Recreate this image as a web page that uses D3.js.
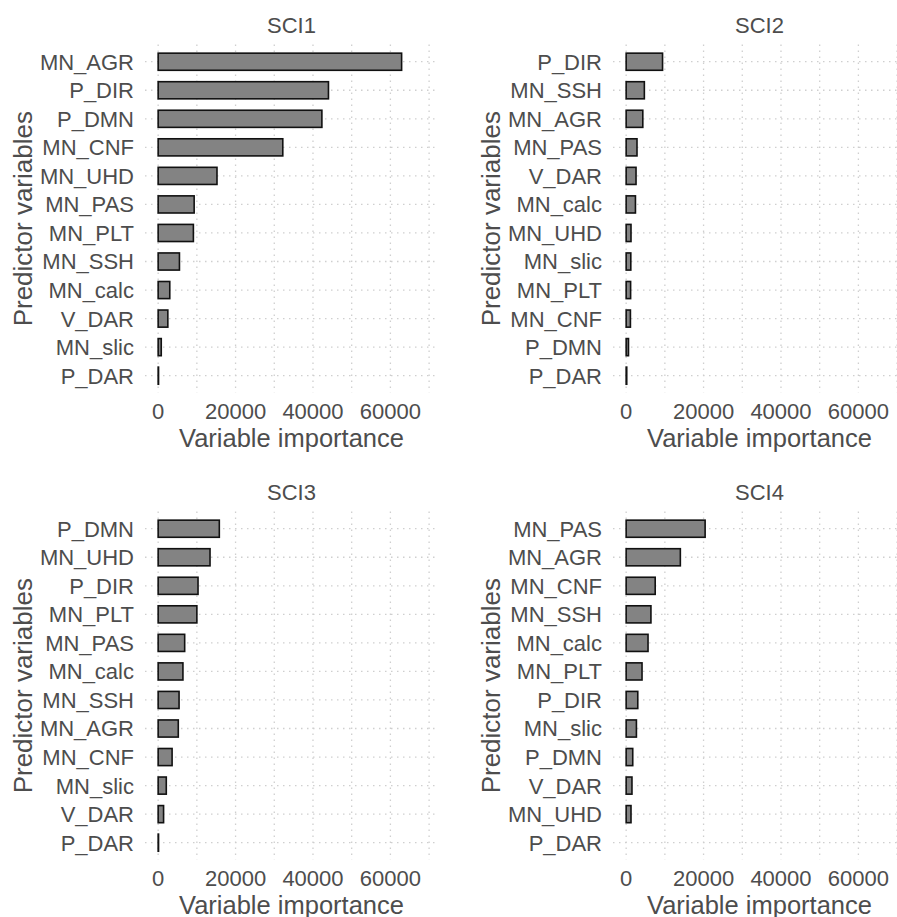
<!DOCTYPE html>
<html lang="en">
<head>
  <meta charset="UTF-8">
  <script src="https://cdn.jsdelivr.net/npm/d3@7"></script>
  <title>Variable importance</title>
  <style>
    html, body { margin: 0; padding: 0; background: #fff; }
    svg { display: block; }
  </style>
</head>
<body>
  <svg class="svg" width="897" height="917"></svg>
  <script>
    // variables, same order in every value list below
    const variables = ["MN_AGR", "P_DIR", "P_DMN", "MN_CNF", "MN_UHD", "MN_PAS",
                       "MN_PLT", "MN_SSH", "MN_calc", "V_DAR", "MN_slic", "P_DAR"]
    const sci1 = [62900, 44000, 42300, 32200, 15200, 9300, 9100, 5500, 3000, 2500, 800, 100]
    const sci2 = [4300, 9400, 600, 1100, 1250, 2800, 1150, 4700, 2400, 2550, 1200, 150]
    const sci3 = [5200, 10300, 15800, 3600, 13400, 6850, 10000, 5400, 6400, 1400, 2100, 100]
    const sci4 = [14000, 3000, 1700, 7500, 1250, 20400, 4100, 6400, 5650, 1500, 2650, 0]
    const panelTitles = ["SCI1", "SCI2", "SCI3", "SCI4"]
    const xTicks = [0, 20000, 40000, 60000]
    const xGrid = d3.range(0, 70001, 10000)

    const svg = d3.select(".svg")
    const textColor = "#4d4d4d"
    const font = "'Liberation Sans', Arial, sans-serif"

    // one panel geometry, shifted for each facet
    const panel = {left: 145, right: 438, top: 44.6, bottom: 392.8}
    const offsets = [[0, 0], [468, 0], [0, 467], [468, 467]]

    let drawPanel = function(g, title, values) {
      let rows = variables.map((v, i) => ({name: v, value: values[i]}))
        .sort((a, b) => d3.descending(a.value, b.value))

      let x = d3.scaleLinear()
        .domain([-3400, 72300])
        .range([panel.left, panel.right])

      let y = d3.scaleBand()
        .domain(rows.map(d => d.name))
        .range([panel.top, panel.bottom])
        .paddingInner(0.4)
        .paddingOuter(0.3)

      // dotted grid
      g.append("g")
        .attr("stroke", "#cfcfcf")
        .attr("stroke-width", 1.3)
        .attr("stroke-dasharray", "1.5 4.5")
        .call(gg => gg.selectAll(".v")
          .data(xGrid)
          .join("line")
          .attr("x1", d => x(d)).attr("x2", d => x(d))
          .attr("y1", panel.top).attr("y2", panel.bottom))
        .call(gg => gg.selectAll(".h")
          .data(rows)
          .join("line")
          .attr("x1", panel.left).attr("x2", panel.right)
          .attr("y1", d => y(d.name) + y.bandwidth() / 2)
          .attr("y2", d => y(d.name) + y.bandwidth() / 2))

      // bars
      g.append("g")
        .attr("fill", "#838383")
        .attr("stroke", "#111")
        .attr("stroke-width", 1.6)
        .selectAll("rect")
        .data(rows.filter(d => d.value > 0))
        .join("rect")
        .attr("x", x(0))
        .attr("y", d => y(d.name))
        .attr("width", d => x(d.value) - x(0))
        .attr("height", y.bandwidth())

      // y tick labels
      g.append("g")
        .attr("fill", textColor)
        .attr("font-family", font)
        .attr("font-size", 22)
        .attr("text-anchor", "end")
        .selectAll("text")
        .data(rows)
        .join("text")
        .attr("x", panel.left - 11)
        .attr("y", d => y(d.name) + y.bandwidth() / 2)
        .attr("dy", "0.36em")
        .text(d => d.name)

      // x tick labels
      g.append("g")
        .attr("fill", textColor)
        .attr("font-family", font)
        .attr("font-size", 22)
        .attr("text-anchor", "middle")
        .selectAll("text")
        .data(xTicks)
        .join("text")
        .attr("x", d => x(d))
        .attr("y", 418.5)
        .text(d => d)

      // titles
      g.append("text")
        .attr("x", (panel.left + panel.right) / 2)
        .attr("y", 33)
        .attr("text-anchor", "middle")
        .attr("font-family", font)
        .attr("font-size", 22)
        .attr("fill", textColor)
        .text(title)

      g.append("text")
        .attr("x", (panel.left + panel.right) / 2)
        .attr("y", 446.5)
        .attr("text-anchor", "middle")
        .attr("font-family", font)
        .attr("font-size", 25.5)
        .attr("fill", textColor)
        .text("Variable importance")

      g.append("text")
        .attr("transform", `translate(32,${(panel.top + panel.bottom) / 2}) rotate(-90)`)
        .attr("text-anchor", "middle")
        .attr("font-family", font)
        .attr("font-size", 26)
        .attr("fill", textColor)
        .text("Predictor variables")
    }

    const series = [sci1, sci2, sci3, sci4]
    series.forEach((vals, i) => {
      svg.append("g")
        .attr("transform", `translate(${offsets[i][0]},${offsets[i][1]})`)
        .call(g => drawPanel(g, panelTitles[i], vals))
    })
  </script>
</body>
</html>
